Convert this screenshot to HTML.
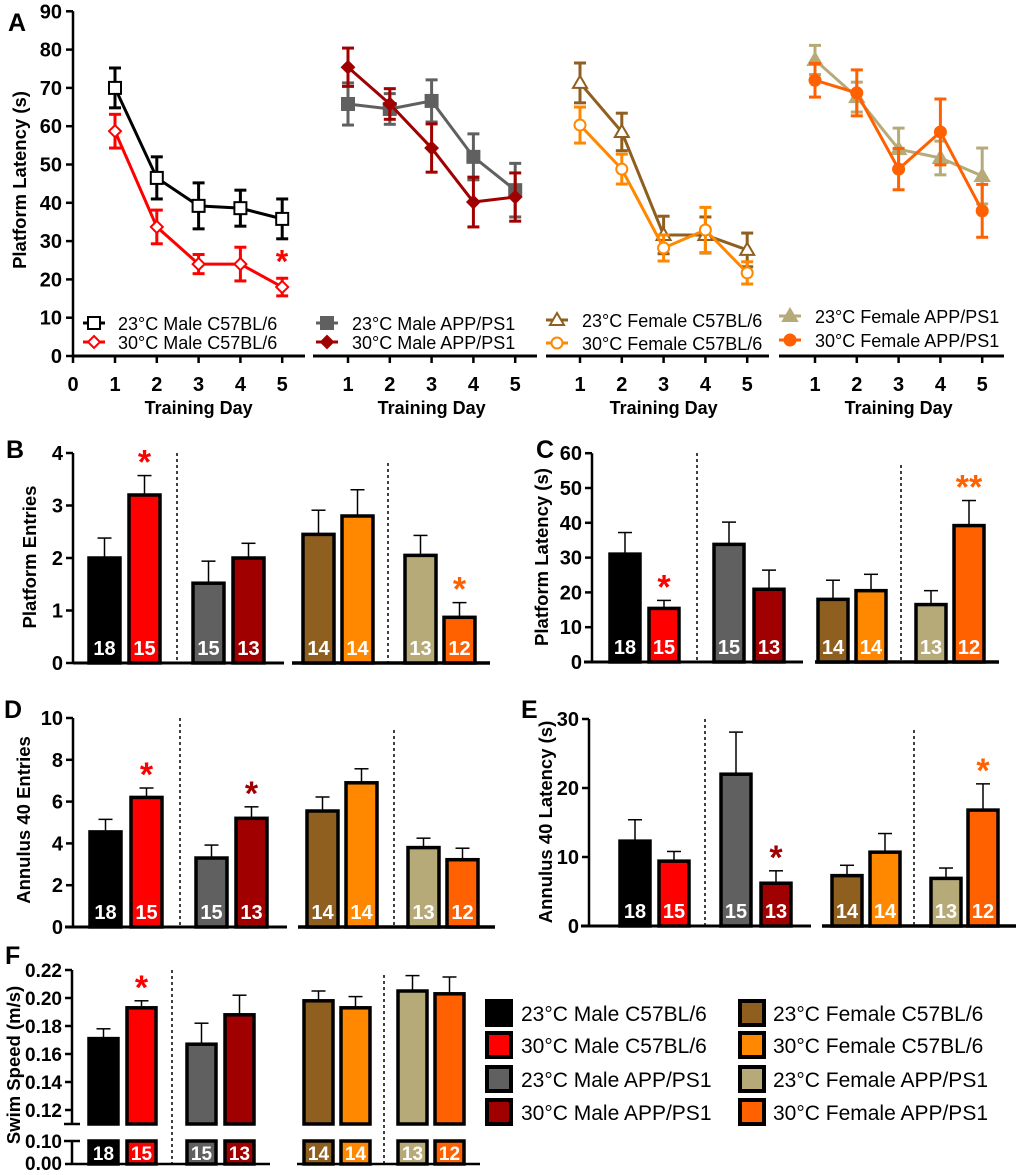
<!DOCTYPE html>
<html><head><meta charset="utf-8"><style>
html,body{margin:0;padding:0;background:#fff}
svg{display:block}
text{font-family:"Liberation Sans",Arial,sans-serif}
</style></head><body>
<svg id="fig" width="1020" height="1175" viewBox="0 0 1020 1175" xmlns="http://www.w3.org/2000/svg"></svg>
<script>
// ---------- data ----------
const days = [1,2,3,4,5];
const groupNames = ["23°C Male C57BL/6","30°C Male C57BL/6","23°C Male APP/PS1","30°C Male APP/PS1","23°C Female C57BL/6","30°C Female C57BL/6","23°C Female APP/PS1","30°C Female APP/PS1"];
const groupColors = ["#000000","#ff0000","#606060","#a00000","#8f5f1f","#ff8800","#b5aa78","#ff6000"];
const nLabels = ["18","15","15","13","14","14","13","12"];
// panel A
const aM23 = [70,46.5,39.2,38.6,35.8];      const aM23e = [5.2,5.5,6,4.7,5.2];
const aM30 = [58.7,33.7,24,24,18];          const aM30e = [4.4,4.4,2.5,4.4,2.3];
const aMA23 = [65.8,64.5,66.6,52,43.3];     const aMA23e = [5.5,4,5.5,6,7];
const aMA30 = [75.4,65.8,54.3,40.2,41.5];   const aMA30e = [5,4,6.3,6.5,6.3];
const aF23 = [71.3,58.5,31.6,31.6,27.7];    const aF23e = [5.2,4.9,4.9,4.7,4.4];
const aF30 = [60.3,48.8,28.2,32.9,21.7];    const aF30e = [4.7,3.9,3.4,5.9,2.9];
const aFA23 = [77.3,67.6,54,51.7,47];       const aFA23e = [3.8,3.9,5.5,4.4,7.3];
const aFA30 = [72,68.7,48.8,58.5,37.9];     const aFA30e = [4.4,6,5.4,8.6,6.9];
const aTicks = [0,10,20,30,40,50,60,70,80,90];
// bar panels
const bVals = [2.0,3.2,1.52,2.0,2.45,2.8,2.05,0.87];  const bErr = [0.38,0.37,0.42,0.28,0.46,0.5,0.38,0.28];
const bTicks = [0,1,2,3,4];
const cVals = [31,15.4,33.8,20.9,18,20.5,16.5,39.2];  const cErr = [6.2,2.3,6.4,5.5,5.5,4.7,4,7.2];
const cTicks = [0,10,20,30,40,50,60];
const dVals = [4.55,6.2,3.3,5.2,5.55,6.9,3.8,3.22];   const dErr = [0.6,0.45,0.62,0.55,0.67,0.67,0.45,0.55];
const dTicks = [0,2,4,6,8,10];
const eVals = [12.3,9.4,22,6.2,7.3,10.7,6.9,16.8];    const eErr = [3.1,1.4,6.1,1.8,1.5,2.7,1.5,3.8];
const eTicks = [0,10,20,30];
const fVals = [0.171,0.193,0.167,0.188,0.198,0.193,0.205,0.203]; const fErr = [0.007,0.005,0.015,0.014,0.007,0.008,0.011,0.012];
const fTicks = [0.12,0.14,0.16,0.18,0.20,0.22];
const fLowTicks = [0.00,0.10];

// ---------- helpers ----------
const NS = "http://www.w3.org/2000/svg";
const svg = document.getElementById('fig');
function mk(tag, attrs, name, parent){
  const el = document.createElementNS(NS, tag);
  for (const k in attrs) el.setAttribute(k, attrs[k]);
  
  
  (parent||svg).appendChild(el);
  return el;
}
function txt(x,y,s,size,name,opts){
  opts = opts||{};
  const t = mk('text',{x:x,y:y,'font-size':size,'font-weight':opts.w||'bold','text-anchor':opts.a||'start',fill:opts.fill||'#000'},name,opts.parent);
  if (opts.rot) t.setAttribute('transform','rotate(-90 '+x+' '+y+')');
  t.textContent = s;
  return t;
}
function line(x1,y1,x2,y2,w,c,name,dash){
  const l = mk('line',{x1:x1,y1:y1,x2:x2,y2:y2,stroke:c||'#000','stroke-width':w},name);
  if (dash) l.setAttribute('stroke-dasharray',dash);
  return l;
}
const TK = 20;   // tick label size
const TT = 18.5; // axis title size

// panel letters
txt(8,31,"A",25,"panel-label-a");
txt(6,458,"B",25,"panel-label-b");
txt(536,458,"C",25,"panel-label-c");
txt(4,718,"D",25,"panel-label-d");
txt(521,718,"E",25,"panel-label-e");
txt(5,964,"F",25,"panel-label-f");

// ---------- panel A ----------
const aY = v => 356 - 3.83*v;
line(73,aY(90),73,357,2.5,'#000','a-y-axis');
aTicks.forEach(v=>{ line(66,aY(v),73,aY(v),2.5,'#000','a-y-tick'); txt(62,aY(v)+7,String(v),TK,'a-y-tick-label',{a:'end'}); });
txt(26,180,"Platform Latency (s)",TT,'a-y-axis-title',{a:'middle',rot:true});
const subs = [
  {x1:115,ax0:73,ax1:305,zero:true,series:[[aM23,aM23e,0,'sq-open'],[aM30,aM30e,1,'dia-open']],leg:[83,118,323,342]},
  {x1:348,ax0:313,ax1:537,series:[[aMA23,aMA23e,2,'sq-fill'],[aMA30,aMA30e,3,'dia-fill']],leg:[316,352,323,342]},
  {x1:580,ax0:546,ax1:769,series:[[aF23,aF23e,4,'tri-open'],[aF30,aF30e,5,'circ-open']],leg:[546,582,320,343]},
  {x1:815,ax0:779,ax1:1004,series:[[aFA23,aFA23e,6,'tri-fill'],[aFA30,aFA30e,7,'circ-fill']],leg:[779,815,316,340]}
];
function marker(x,y,type,col,name){
  const fill = type.indexOf('open')>=0 ? '#fff' : col;
  if (type.startsWith('sq')) mk('rect',{x:x-6,y:y-6,width:12,height:12,fill:fill,stroke:col,'stroke-width':2},name);
  else if (type.startsWith('dia')) mk('polygon',{points:`${x},${y-6} ${x+6},${y} ${x},${y+6} ${x-6},${y}`,fill:fill,stroke:col,'stroke-width':2},name);
  else if (type.startsWith('tri')) mk('polygon',{points:`${x},${y-7} ${x+7},${y+5} ${x-7},${y+5}`,fill:fill,stroke:col,'stroke-width':2},name);
  else mk('circle',{cx:x,cy:y,r:5.5,fill:fill,stroke:col,'stroke-width':2},name);
}
subs.forEach((s,si)=>{
  const xs = d => s.x1 + (d-1)*41.8;
  line(s.ax0,356,s.ax1,356,3,'#000','a-x-axis-'+(si+1));
  if (s.zero){ line(73,356,73,363,2.5,'#000','a-x-tick'); txt(73,391,"0",TK,'a-x-tick-label',{a:'middle'}); }
  days.forEach(d=>{ line(xs(d),356,xs(d),363,2.5,'#000','a-x-tick'); txt(xs(d),391,String(d),TK,'a-x-tick-label',{a:'middle'}); });
  txt(xs(3),414,"Training Day",18,'a-x-axis-title',{a:'middle'});
  s.series.forEach((ser,k)=>{
    const vals=ser[0], errs=ser[1], col=groupColors[ser[2]];
    mk('polyline',{points:days.map((d,i)=>xs(d)+','+aY(vals[i])).join(' '),fill:'none',stroke:col,'stroke-width':3},'a-line-'+ser[2]);
    days.forEach((d,i)=>{
      const x=xs(d), t=aY(vals[i]+errs[i]), b=aY(vals[i]-errs[i]);
      line(x,t,x,b,3,col,'a-error-bar');
      line(x-6,t,x+6,t,3,col,'a-error-cap');
      line(x-6,b,x+6,b,3,col,'a-error-cap');
      marker(x,aY(vals[i]),ser[3],col,'a-point');
    });
    const ly = s.leg[2+k];
    line(s.leg[0],ly,s.leg[0]+22,ly,3,col,'a-legend-line');
    marker(s.leg[0]+11,ly,ser[3],col,'a-legend-marker');
    txt(s.leg[1],ly+7,groupNames[ser[2]],18,'a-legend-entry',{w:'normal'});
  });
});
txt(282,aY(18+2.3)-6,"*",32,'a-significance-star',{a:'middle',fill:'#ff0000'});

// ---------- bar panels ----------
function barPanel(p){
  const y = v => p.y0 - (v - p.base)*p.k;
  line(p.ax,y(p.ticks[p.ticks.length-1]),p.ax,p.y0,2.5,'#000',p.id+'-y-axis');
  p.ticks.forEach(v=>{ line(p.ax-7,y(v),p.ax,y(v),2.5,'#000',p.id+'-y-tick'); txt(p.ax-10,y(v)+7,String(v),TK,p.id+'-y-tick-label',{a:'end'}); });
  txt(p.tx,p.ty,p.title,TT,p.id+'-y-axis-title',{a:'middle',rot:true});
  line(p.seg[0],p.y0,p.seg[1],p.y0,3,'#000',p.id+'-x-axis-left');
  line(p.seg[2],p.y0,p.seg[3],p.y0,3.5,'#000',p.id+'-x-axis-right');
  p.dots.forEach(d=>line(d[0],d[1],d[0],p.y0,1.5,'#000',p.id+'-group-divider','3,3'));
  p.vals.forEach((v,i)=>{
    const x=p.bx[i], w=p.bw, cx=x+w/2, top=y(v), et=y(v+p.errs[i]);
    line(cx,et,cx,top,1.5,'#000',p.id+'-error-bar');
    line(cx-7,et,cx+7,et,1.5,'#000',p.id+'-error-cap');
    mk('rect',{x:x,y:top,width:w,height:p.y0-top,fill:groupColors[i],stroke:'#000','stroke-width':3.5},p.id+'-bar-'+(i+1));
    txt(cx,p.y0-8,nLabels[i],20,p.id+'-n-label',{a:'middle',fill:'#fff'});
  });
  (p.stars||[]).forEach(s=>{ txt(p.bx[s[0]]+p.bw/2,y(p.vals[s[0]]+p.errs[s[0]])-2,s[1],34,p.id+'-significance-star',{a:'middle',fill:groupColors[s[0]]}); });
}
barPanel({id:'b',vals:bVals,errs:bErr,ticks:bTicks,base:0,y0:663,k:52.5,ax:73,title:"Platform Entries",tx:36,ty:557,
  bx:[89,129,193,233,303,342,405,444],bw:31,seg:[73,284,292,490],dots:[[177,453],[388,463]],stars:[[1,'*'],[7,'*']]});
barPanel({id:'c',vals:cVals,errs:cErr,ticks:cTicks,base:0,y0:662,k:3.48,ax:592,title:"Platform  Latency (s)",tx:548,ty:557,
  bx:[610,649,714,754,818,856,916,954],bw:30,seg:[584,803,815,999],dots:[[697,453],[901,465]],stars:[[1,'*'],[7,'**']]});
barPanel({id:'d',vals:dVals,errs:dErr,ticks:dTicks,base:0,y0:927,k:20.9,ax:73,title:"Annulus 40 Entries",tx:30,ty:820,
  bx:[90,131,196,236,307,346,408,447],bw:31,seg:[65,287,298,495],dots:[[180,718],[394,730]],stars:[[1,'*'],[3,'*']]});
barPanel({id:'e',vals:eVals,errs:eErr,ticks:eTicks,base:0,y0:926,k:6.9,ax:589,title:"Annulus 40 Latency (s)",tx:552,ty:822,
  bx:[620,659,721,761,832,870,931,968],bw:30,seg:[581,811,822,1016],dots:[[705,719],[914,730]],stars:[[3,'*'],[7,'*']]});

// ---------- panel F (broken axis) ----------
(function(){
  const fy = v => 970 + (0.22 - v)*1400;
  const ax=72, y0=1164, breakY=1124, lowTop=1141;
  line(ax,fy(0.22),ax,breakY,2.5,'#000','f-y-axis-upper');
  line(ax-8,breakY,ax+8,breakY,2.5,'#000','f-axis-break');
  line(ax,lowTop,ax,y0,2.5,'#000','f-y-axis-lower');
  line(ax-8,lowTop,ax+8,lowTop,2.5,'#000','f-axis-break');
  fTicks.forEach(v=>{ line(ax-7,fy(v),ax,fy(v),2.5,'#000','f-y-tick'); txt(ax-10,fy(v)+7,v.toFixed(2),19,'f-y-tick-label',{a:'end'}); });
  txt(ax-10,lowTop+7,fLowTicks[1].toFixed(2),19,'f-y-tick-label',{a:'end'});
  txt(ax-10,y0+6,fLowTicks[0].toFixed(2),19,'f-y-tick-label',{a:'end'});
  txt(20,1065,"Swim Speed (m/s)",TT,'f-y-axis-title',{a:'middle',rot:true});
  line(65,y0,270,y0,2.5,'#000','f-x-axis-left');
  line(297,y0,480,y0,2.5,'#000','f-x-axis-right');
  line(172,970,172,y0,1.5,'#000','f-group-divider','3,3');
  line(384,975,384,y0,1.5,'#000','f-group-divider','3,3');
  const bx=[89,127,187,225,304,341,398,435], bw=29;
  fVals.forEach((v,i)=>{
    const x=bx[i], cx=x+bw/2, top=fy(v), et=fy(v+fErr[i]);
    line(cx,et,cx,top,1.5,'#000','f-error-bar');
    line(cx-7,et,cx+7,et,1.5,'#000','f-error-cap');
    mk('rect',{x:x,y:top,width:bw,height:breakY-top,fill:groupColors[i],stroke:'#000','stroke-width':3.5},'f-bar-'+(i+1));
    mk('rect',{x:x,y:lowTop,width:bw,height:y0-lowTop,fill:groupColors[i],stroke:'#000','stroke-width':3.5},'f-bar-base-'+(i+1));
    txt(cx,y0-4,nLabels[i],19,'f-n-label',{a:'middle',fill:'#fff'});
  });
  txt(bx[1]+bw/2,fy(fVals[1]+fErr[1])-2,"*",34,'f-significance-star',{a:'middle',fill:'#ff0000'});
  // legend
  const lx=[485,738], tx=[521,773], ly=[1013,1045,1079,1112];
  groupNames.forEach((g,i)=>{
    const c=Math.floor(i/4), r=i%4;
    mk('rect',{x:lx[c]+2,y:ly[r]-12,width:24,height:24,fill:groupColors[i],stroke:'#000','stroke-width':4},'legend-swatch-'+(i+1));
    txt(tx[c],ly[r]+8,g,21,'legend-entry',{w:'normal'});
  });
})();
</script>
</body></html>
